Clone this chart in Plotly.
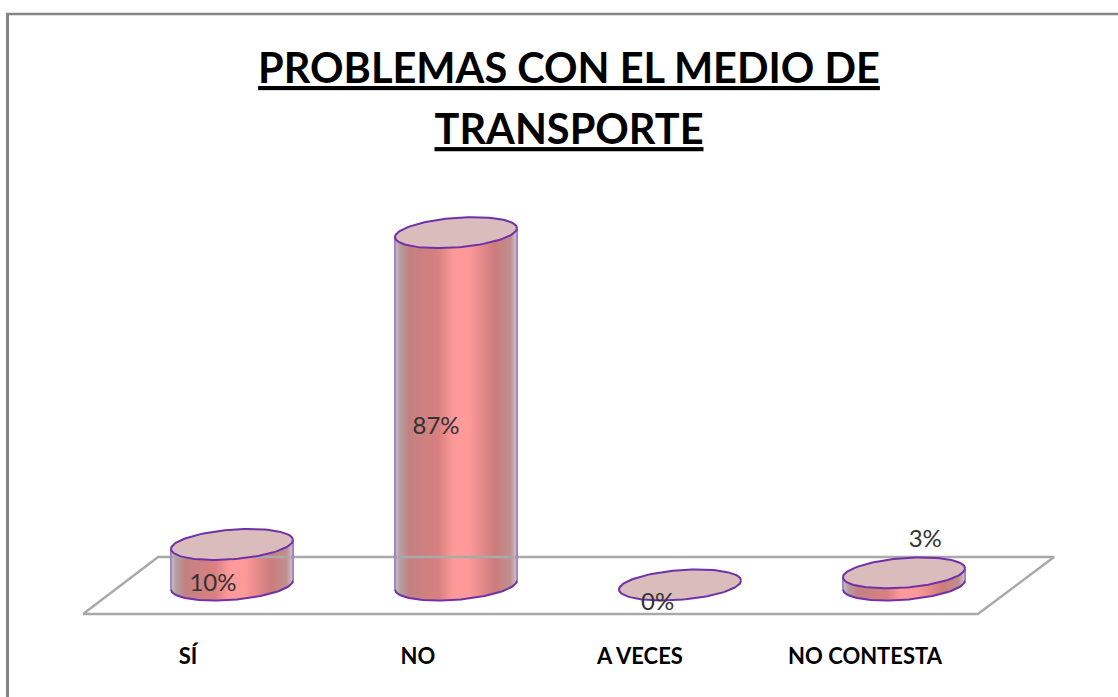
import numpy as np
import plotly.graph_objects as go

categories = ["SÍ", "NO", "A VECES", "NO CONTESTA"]
values = [10, 87, 0, 3]
value_labels = ["10%", "87%", "0%", "3%"]
tick_positions = [-0.196, 0.83, 1.821, 2.826]
label_x = [-0.085, 0.911, 1.90, 3.095]
label_y = [0.0, 38.8, -4.8, 10.9]
title_lines = ["PROBLEMAS CON EL MEDIO DE", "TRANSPORTE"]

W, H = 1118, 697
PLOT_BOTTOM = 641
PX_X = 224.0
PX_Y = 4.05
X0 = 232.0
Y0 = 585.0
A = 61 / PX_X
B = 14.8 / PX_Y
K = 4.5 / PX_Y
STRIPS = 122

GRAD_POS = [0, 0.04, 0.12, 0.36, 0.48, 0.6, 0.82, 0.95, 1]
GRAD_COL = [(208, 192, 202), (182, 160, 160), (196, 128, 128), (218, 128, 128), (255, 154, 154),
            (255, 154, 154), (204, 124, 124), (190, 145, 145), (216, 200, 200)]


def gradient(f):
    rgb = [np.interp(f, GRAD_POS, [c[i] for c in GRAD_COL]) for i in range(3)]
    return "rgb(%d,%d,%d)" % tuple(int(v) for v in rgb)


def ellipse(cx, cy, t):
    return cx + A * np.cos(t), cy + B * np.sin(t) + K * np.cos(t)


fig = go.Figure()
FLOOR = dict(x=[-0.665, 3.330, 3.670, -0.330, -0.665], y=[-7.16, -7.16, 6.91, 6.91, -7.16])
fig.add_trace(go.Scatter(x=FLOOR["x"], y=FLOOR["y"], mode="lines", line=dict(color="#a9a9a9", width=2.5),
                         hoverinfo="skip", showlegend=False))

fracs = (np.arange(STRIPS) + 0.5) / STRIPS
for i, v in enumerate(values):
    xs = i - A + 2 * A * fracs
    u = (xs - i) / A
    # lower arc of the base ellipse under each strip
    t = np.arctan2(-np.sqrt(1 - u ** 2), u)
    _, low = ellipse(i, 0.0, t)
    fig.add_trace(go.Bar(x=xs, y=v - low, base=low, width=2 * A / STRIPS,
                         marker=dict(color=[gradient(f) for f in fracs], line=dict(width=0)),
                         hoverinfo="skip", showlegend=False))
    if v > 0:
        # sides
        for sx, sk in ((-A, -K), (A, K)):
            fig.add_trace(go.Scatter(x=[i + sx, i + sx], y=[sk, v + sk], mode="lines",
                                     line=dict(color="#a583cc", width=2), hoverinfo="skip", showlegend=False))
        tt = np.linspace(np.pi, 2 * np.pi, 60)
        ax, ay = ellipse(i, 0.0, tt)
        fig.add_trace(go.Scatter(x=ax, y=ay, mode="lines", line=dict(color="#7030a8", width=2),
                                 hoverinfo="skip", showlegend=False))
    tt = np.linspace(0, 2 * np.pi, 120)
    ex, ey = ellipse(i, v, tt)
    fig.add_trace(go.Scatter(x=ex, y=ey, mode="lines", fill="toself", fillcolor="#dabcbc",
                             line=dict(color="#7030a8", width=2), hoverinfo="skip", showlegend=False))

fig.add_trace(go.Scatter(x=label_x, y=label_y, mode="text", text=value_labels,
                         textfont=dict(family="Lato", size=24, color="#333333"),
                         textposition="middle center", hoverinfo="skip", showlegend=False))

title_text = "<br>".join('<span style="font-size:41.5px">%s</span>' % s for s in title_lines)

fig.update_layout(
    width=W, height=H, margin=dict(l=0, r=0, t=0, b=H - PLOT_BOTTOM, autoexpand=False),
    paper_bgcolor="white", plot_bgcolor="white", barmode="overlay", bargap=0,
    title=dict(text=title_text, x=569 / W, xanchor="center", xref="paper", y=1 - 83 / H, yanchor="bottom",
               font=dict(family="Lato", size=47, color="black", weight="bold", lineposition="under")),
    xaxis=dict(range=[-X0 / PX_X, (W - X0) / PX_X], tickmode="array", tickvals=tick_positions, ticktext=categories,
               ticks="", showgrid=False, zeroline=False, showline=False,
               tickfont=dict(family="Lato", size=22, color="black", weight="bold")),
    yaxis=dict(range=[(Y0 - PLOT_BOTTOM) / PX_Y, Y0 / PX_Y], visible=False, showgrid=False, zeroline=False),
    shapes=[
        dict(type="line", xref="paper", yref="paper", x0=7.5 / W, x1=7.5 / W, y0=-1, y1=1 - 14 / PLOT_BOTTOM,
             line=dict(color="#858585", width=3)),
        dict(type="line", xref="paper", yref="paper", x0=6 / W, x1=1, y0=1 - 14 / PLOT_BOTTOM, y1=1 - 14 / PLOT_BOTTOM,
             line=dict(color="#858585", width=2.5)),
    ],
)
fig.write_html("out.html", post_script="document.body.style.margin='0';", config=dict(displayModeBar=False))
